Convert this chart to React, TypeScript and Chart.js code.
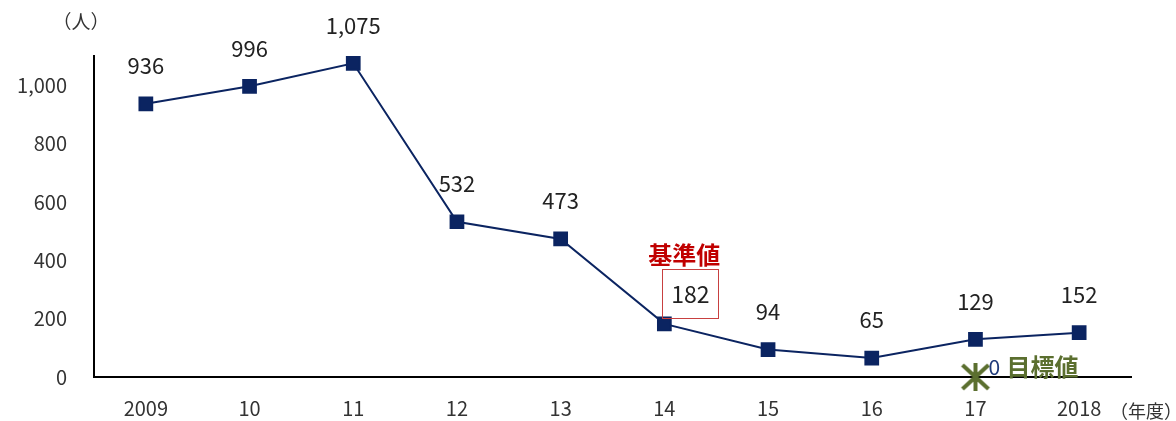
import React, { useEffect, useRef } from "react";
import { Chart, registerables } from "chart.js";

Chart.register(...registerables);

const categories = ["2009", "10", "11", "12", "13", "14", "15", "16", "17", "2018"];
const persons = [936, 996, 1075, 532, 473, 182, 94, 65, 129, 152];
const targetValues: (number | null)[] = [null, null, null, null, null, null, null, null, 0, null];
const yTicks = [0, 200, 400, 600, 800, 1000];
const baseIndex = 5;
const targetIndex = 8;

const FONT = "'Noto Sans CJK JP', 'Noto Sans', sans-serif";

function makeAsterisk(): HTMLCanvasElement {
  const c = document.createElement("canvas");
  const s = 36;
  c.width = s;
  c.height = s;
  const ctx = c.getContext("2d")!;
  ctx.strokeStyle = "#5b6f2f";
  ctx.lineWidth = 4;
  ctx.lineCap = "butt";
  const cx = s / 2, cy = s / 2;
  ctx.beginPath();
  ctx.moveTo(cx, cy - 14);
  ctx.lineTo(cx, cy + 14);
  ctx.moveTo(cx - 13, cy - 12);
  ctx.lineTo(cx + 13, cy + 12);
  ctx.moveTo(cx + 13, cy - 12);
  ctx.lineTo(cx - 13, cy + 12);
  ctx.stroke();
  return c;
}

const labelsPlugin = {
  id: "customLabels",
  afterDatasetsDraw(chart: any) {
    const ctx = chart.ctx;
    const meta = chart.getDatasetMeta(0);
    ctx.save();
    ctx.textAlign = "center";
    ctx.textBaseline = "middle";
    meta.data.forEach((pt: any, i: number) => {
      const v = persons[i];
      const txt = v.toLocaleString("en-US");
      const y = pt.y - 38;
      ctx.font = `22px ${FONT}`;
      ctx.fillStyle = "#222222";
      if (i === baseIndex) {
        ctx.font = `23px ${FONT}`;
        ctx.fillText(txt, pt.x + 26, pt.y - 30);
        ctx.strokeStyle = "#c84040";
        ctx.lineWidth = 1;
        ctx.strokeRect(Math.round(pt.x - 2) + 0.5, Math.round(pt.y - 55) + 0.5, 56, 49);
        ctx.font = `bold 24px ${FONT}`;
        ctx.fillStyle = "#c00000";
        ctx.fillText("基準値", pt.x + 20, pt.y - 69);
      } else {
        ctx.fillText(txt, pt.x, y);
      }
    });
    const tmeta = chart.getDatasetMeta(1);
    const tp = tmeta.data[targetIndex];
    if (tp) {
      ctx.textAlign = "left";
      ctx.font = `21px ${FONT}`;
      ctx.fillStyle = "#1f3a7a";
      ctx.fillText("0", tp.x + 13, tp.y - 10);
      ctx.font = `bold 24px ${FONT}`;
      ctx.fillStyle = "#5b6f2f";
      ctx.fillText("目標値", tp.x + 31, tp.y - 10);
    }
    // unit labels
    ctx.font = `19px ${FONT}`;
    ctx.fillStyle = "#333333";
    ctx.textAlign = "center";
    ctx.fillText("（人）", 81, 22);
    ctx.font = `18px ${FONT}`;
    ctx.fillText("（年度）", 1146, 411);
    ctx.restore();
  },
};

export default function App() {
  const ref = useRef<HTMLCanvasElement>(null);
  useEffect(() => {
    document.body.style.margin = "0";
    const star = makeAsterisk();
    const chart = new Chart(ref.current!, {
      type: "line",
      data: {
        labels: categories,
        datasets: [
          {
            data: persons,
            borderColor: "#0b2461",
            backgroundColor: "#0b2461",
            borderWidth: 2,
            pointStyle: "rect",
            pointRadius: 9,
            pointHoverRadius: 9,
            tension: 0,
          },
          {
            data: targetValues,
            showLine: false,
            pointStyle: star as any,
            pointRadius: 18,
            clip: false as any,
          },
        ],
      },
      plugins: [labelsPlugin],
      options: {
        animation: false,
        responsive: false,
        events: [],
        layout: { padding: { left: 0, right: 45, top: 56, bottom: 0 } },
        plugins: { legend: { display: false }, tooltip: { enabled: false } },
        scales: {
          x: {
            offset: true,
            grid: { display: false, drawTicks: false },
            border: { display: true, color: "#000000", width: 2 },
            ticks: { color: "#333333", font: { family: FONT, size: 20 }, padding: 19, maxRotation: 0, autoSkip: false },
            afterFit: (s: any) => { s.height = 44; },
          },
          y: {
            min: 0,
            max: 1100,
            grid: { display: false, drawTicks: false },
            border: { display: true, color: "#000000", width: 2 },
            afterBuildTicks: (s: any) => { s.ticks = yTicks.map((v) => ({ value: v })); },
            ticks: {
              color: "#333333",
              font: { family: FONT, size: 20 },
              padding: 27,
              callback: (v: any) => Number(v).toLocaleString("en-US"),
            },
            afterFit: (s: any) => { s.width = 94; },
          },
        },
      },
    });
    return () => chart.destroy();
  }, []);
  return <canvas ref={ref} width={1176} height={421} style={{ display: "block", width: 1176, height: 421 }} />;
}
